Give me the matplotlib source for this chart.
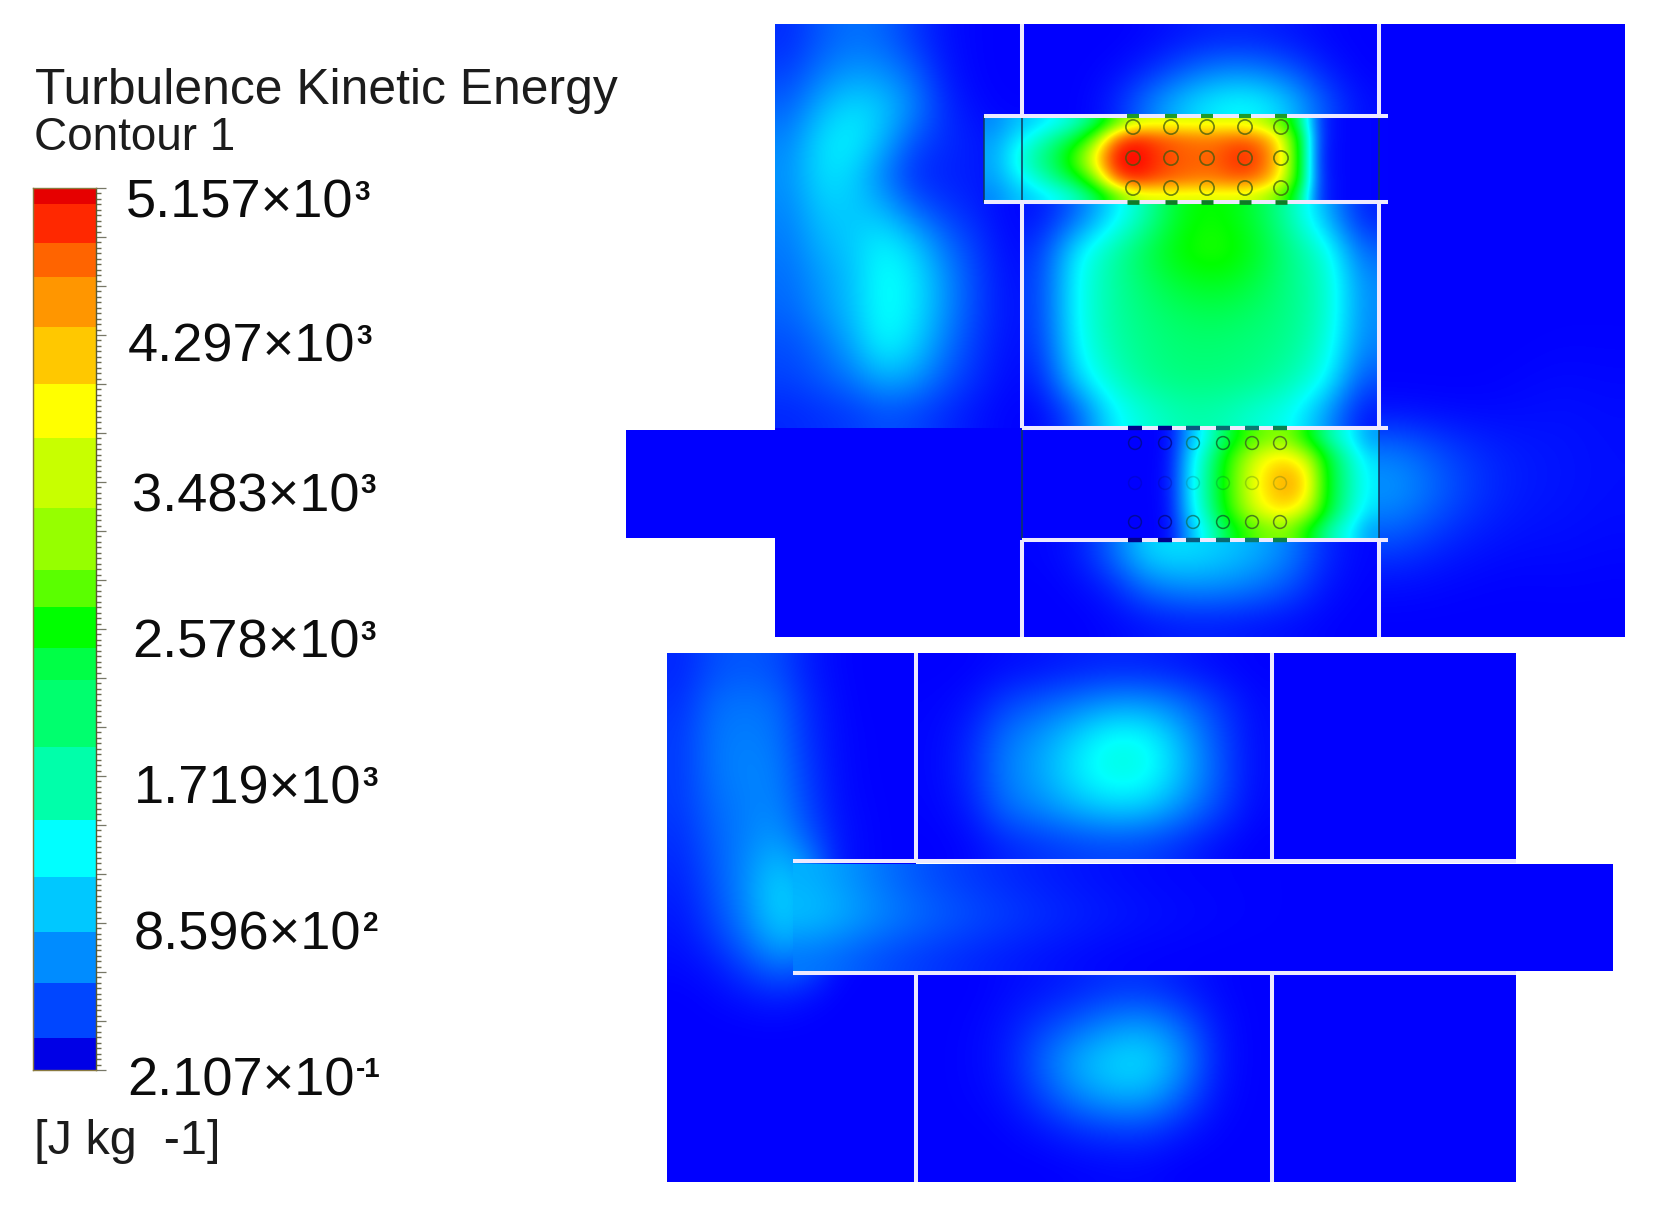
import matplotlib
matplotlib.use("Agg")
import matplotlib.pyplot as plt
from matplotlib.colors import LinearSegmentedColormap
import numpy as np

plt.rcParams['font.family'] = ['Liberation Sans', 'DejaVu Sans']

# ---------- data ----------
title_lines = ["Turbulence Kinetic Energy", "Contour 1"]
unit_label = "[J kg  -1]"
tick_bases = ["5.157×10", "4.297×10", "3.483×10", "2.578×10",
              "1.719×10", "8.596×10", "2.107×10"]
tick_exponents = ["3", "3", "3", "3", "3", "2", "-1"]
v_min, v_max = 0.2107, 5157.0

band_edges = [0.2107, 187, 509, 807, 1128, 1462, 1889, 2280, 2467, 2707,
              2923, 3286, 3695, 4011, 4344, 4637, 4835, 5063, 5157]
band_colors = ['#0000e6', '#0046ff', '#008cff', '#00c8ff', '#00ffff', '#00ffaa',
               '#00ff6e', '#00ff46', '#00ff00', '#5aff00', '#96ff00', '#c8ff00',
               '#ffff00', '#ffc800', '#ff9600', '#ff6400', '#ff2800', '#e60000']

# upper view: left chamber above the inlet
upper_left = [
    [230, 460, 580, 520, 290, 90, 20, 0],
    [350, 630, 800, 750, 520, 140, 20, 0],
    [520, 920, 1150, 1030, 690, 230, 60, 10],
    [690, 1150, 1250, 920, 400, 230, 140, 70],
    [750, 1150, 1090, 630, 230, 170, 140, 60],
    [690, 1030, 1030, 920, 520, 290, 170, 30],
    [630, 920, 1030, 1250, 1030, 570, 290, 60],
    [570, 800, 980, 1350, 1200, 750, 350, 90],
    [520, 750, 980, 1350, 1200, 750, 350, 110],
    [400, 570, 860, 1290, 1090, 630, 290, 90],
    [340, 460, 630, 900, 800, 460, 230, 60],
    [200, 250, 300, 400, 350, 220, 100, 20],
]
upper_mid_top = [
    [0, 0, 0, 40, 120, 180, 180, 120, 40, 0],
    [0, 0, 40, 180, 450, 650, 650, 450, 150, 10],
    [0, 0, 120, 600, 1000, 1250, 1300, 1000, 400, 60],
]
_band_top = [700, 950, 1100, 1300, 1600, 2100, 3000, 3600, 3700, 3700, 3700, 3700, 3700, 3600, 3200, 2300, 300, 40, 20, 20]
_band_mid1 = [800, 1100, 1400, 1800, 2200, 3100, 4500, 4900, 4700, 4600, 4500, 4500, 4600, 4500, 4000, 2800, 300, 40, 20, 20]
_band_mid2 = [850, 1250, 1700, 2100, 2800, 3800, 5000, 5150, 4900, 4700, 4650, 4650, 4900, 4800, 4200, 2900, 250, 40, 20, 20]
tube_band_field = [_band_top, _band_mid1, _band_mid2, _band_mid2, _band_mid1, _band_top]
upper_mid = [
    [100, 500, 1100, 1700, 2500, 2650, 2300, 1700, 900, 150],
    [250, 1200, 1700, 2200, 2650, 2800, 2450, 1900, 1500, 500],
    [300, 1300, 1750, 2050, 2350, 2450, 2250, 1900, 1600, 700],
    [300, 1300, 1750, 1950, 2100, 2150, 2050, 1900, 1600, 700],
    [250, 1250, 1700, 1900, 2000, 2000, 1950, 1850, 1500, 650],
    [150, 1050, 1550, 1850, 1950, 1950, 1900, 1700, 1350, 400],
    [30, 400, 1200, 1500, 1700, 1700, 1500, 1350, 800, 100],
]
_in_a = [0, 60, 900, 1500, 2300, 2900, 3200, 3200, 2500, 1700, 1300, 800]
_in_b = [0, 80, 1100, 1800, 2800, 3500, 3900, 3950, 3500, 2300, 1600, 1100]
_in_c = [0, 100, 1150, 1900, 2900, 3650, 4100, 4300, 3900, 2400, 1700, 1200]
inlet_field = [_in_a, _in_b, _in_c, _in_c, _in_b, _in_a]
upper_mid_low = [
    [20, 100, 500, 1100, 1150, 1050, 900, 650, 200, 30],
    [0, 30, 150, 550, 700, 700, 600, 400, 100, 10],
    [0, 0, 40, 100, 150, 150, 110, 70, 20, 0],
]
upper_right = [
    [0, 0, 0, 0, 0, 0], [0, 0, 0, 0, 0, 0], [0, 0, 0, 0, 0, 0], [0, 0, 0, 0, 0, 0],
    [0, 0, 0, 0, 0, 0], [0, 0, 0, 0, 0, 0], [0, 0, 0, 0, 0, 0], [0, 0, 0, 0, 10, 10],
    [0, 0, 0, 20, 40, 30], [60, 40, 40, 60, 80, 60],
    [650, 400, 220, 130, 100, 70], [800, 500, 250, 130, 100, 70],
    [450, 250, 130, 80, 70, 50], [100, 60, 30, 20, 30, 20], [0, 0, 0, 0, 0, 0],
]
# lower view
lower_left = [
    [200, 400, 450, 400, 150, 30, 0, 0],
    [250, 550, 600, 550, 220, 50, 0, 0],
    [300, 600, 650, 600, 250, 60, 10, 0],
    [300, 600, 680, 650, 300, 70, 10, 0],
    [300, 550, 650, 680, 350, 80, 20, 0],
    [250, 500, 650, 780, 450, 120, 30, 0],
    [200, 450, 700, 1000, 800, 120, 30, 0],
    [150, 400, 700, 1100, 950, 120, 30, 0],
    [100, 300, 600, 950, 900, 120, 30, 0],
    [50, 120, 330, 550, 450, 50, 0, 0],
    [0, 30, 80, 130, 60, 0, 0, 0],
    [0, 0, 0, 0, 0, 0, 0, 0],
    [0, 0, 0, 0, 0, 0, 0, 0],
    [0, 0, 0, 0, 0, 0, 0, 0],
    [0, 0, 0, 0, 0, 0, 0, 0],
    [0, 0, 0, 0, 0, 0, 0, 0],
]
lower_channel = [
    [900, 650, 420, 280, 180, 110, 60, 30, 20, 10, 0, 0, 0, 0, 0, 0],
    [1000, 750, 550, 400, 280, 180, 110, 60, 30, 10, 0, 0, 0, 0, 0, 0],
    [600, 420, 300, 200, 120, 60, 20, 10, 0, 0, 0, 0, 0, 0, 0, 0],
]
lower_mid_top = [
    [0, 10, 60, 100, 150, 180, 170, 120, 50, 10],
    [20, 80, 350, 500, 650, 800, 800, 600, 300, 50],
    [30, 180, 600, 800, 1100, 1400, 1350, 900, 400, 60],
    [30, 200, 650, 850, 1200, 1450, 1400, 950, 450, 60],
    [20, 130, 550, 700, 900, 1050, 1000, 700, 350, 40],
    [0, 40, 180, 260, 320, 350, 320, 200, 60, 0],
]
lower_mid_low = [
    [0, 0, 50, 100, 170, 250, 250, 140, 40, 0],
    [0, 20, 100, 300, 500, 720, 800, 500, 100, 0],
    [0, 30, 120, 500, 900, 1100, 1150, 750, 120, 0],
    [0, 20, 80, 350, 700, 900, 900, 500, 80, 0],
    [0, 0, 20, 100, 220, 300, 300, 130, 20, 0],
    [0, 0, 0, 0, 20, 40, 40, 0, 0, 0],
]
flat_blue = [[0, 0], [0, 0]]

# tube positions
upper_tube_x = [1133, 1171, 1207, 1245, 1281]
upper_tube_y = [127, 158, 188]
inlet_tube_x = [1135, 1165, 1193, 1223, 1252, 1280]
inlet_tube_y = [443, 483, 522]

# ---------- figure ----------
fig = plt.figure(figsize=(16.53, 12.06), dpi=100, facecolor='white')
ax = fig.add_axes([0, 0, 1, 1])
ax.set_axis_off()

cmap = LinearSegmentedColormap.from_list(
    'fluent', ['#0000ff', '#00ffff', '#00ff00', '#ffff00', '#ff0000'], N=512)


def field(z, x0, x1, y0, y1):
    ax.imshow(np.array(z, float), extent=(x0, x1, y1, y0), origin='upper', aspect='auto',
              cmap=cmap, vmin=0, vmax=v_max, interpolation='bicubic',
              interpolation_stage='data', zorder=1)


# upper view
field(upper_left, 775, 1022, 24, 428)
field(flat_blue, 775, 1022, 428, 637)
field(upper_mid_top, 1022, 1379, 24, 116)
field(upper_mid, 1022, 1379, 202, 428)
field(upper_mid_low, 1022, 1379, 540, 637)
field(upper_right, 1379, 1625, 24, 637)
field(tube_band_field, 984, 1388, 116, 202)
field(flat_blue, 626, 1140, 430, 538)
field(inlet_field, 1140, 1379, 430, 538)
# lower view
field(lower_left, 667, 916, 653, 1182)
field(lower_mid_top, 916, 1272, 653, 861)
field(lower_mid_low, 916, 1272, 973, 1182)
field(flat_blue, 1272, 1516, 653, 861)
field(flat_blue, 1272, 1516, 973, 1182)
field(lower_channel, 793, 1613, 864, 971)

wall = dict(color='#ece9ff', lw=2.9, solid_capstyle='butt', zorder=3)
thin = dict(color='#103a5a', lw=1.1, zorder=3)

# upper-view walls
for x in (1022, 1379):
    ax.plot([x, x], [24, 116], **wall)
    ax.plot([x, x], [202, 428], **wall)
    ax.plot([x, x], [540, 637], **wall)
    ax.plot([x, x], [116, 202], **thin)
    ax.plot([x, x], [430, 538], **thin)
ax.plot([984, 984], [116, 202], **thin)
for y in (116, 202):
    ax.plot([984, 1388], [y, y], **wall)
for y in (428, 540):
    ax.plot([1022, 1388], [y, y], **wall)

# lower-view walls
for x in (916, 1272):
    ax.plot([x, x], [653, 861], **wall)
    ax.plot([x, x], [973, 1182], **wall)
for y in (861, 973):
    ax.plot([793, 1516], [y, y], **wall)

# tubes and their breaks in the walls
tx, ty = np.meshgrid(upper_tube_x, upper_tube_y)
ax.scatter(tx.ravel(), ty.ravel(), s=105, facecolors='none', edgecolors='#3a5a10',
           linewidths=1.2, alpha=0.75, zorder=4)
for x in upper_tube_x:
    ax.plot([x - 6, x + 6], [116, 116], color='#1f9a2a', lw=3, solid_capstyle='butt', zorder=4)
    ax.plot([x - 6, x + 6], [202, 202], color='#0f7a25', lw=3.4, solid_capstyle='butt', zorder=4)
inlet_edge = ['#000a90', '#000a90', '#0a7a70', '#0c6a2a', '#3a6a20', '#4a6a20']
for row_i, y in enumerate(inlet_tube_y):
    a = 0.3 if row_i == 1 else 0.85
    for x, c in zip(inlet_tube_x, inlet_edge):
        ax.scatter([x], [y], s=85, facecolors='none', edgecolors=c, linewidths=1.1,
                   alpha=a, zorder=4)
for x, c in zip(inlet_tube_x, ['#00008c', '#00008c', '#0a5a80', '#0a6a70', '#0a7a70', '#0a8050']):
    ax.plot([x - 7, x + 7], [428, 428], color=c, lw=3.2, solid_capstyle='butt', zorder=4)
    ax.plot([x - 7, x + 7], [540, 540], color=c, lw=3.2, solid_capstyle='butt', zorder=4)

ax.set_xlim(0, 1653)
ax.set_ylim(1206, 0)

# legend text
text_color = '#1c1c1c'
ax.text(35, 91, title_lines[0], fontsize=35.8, color=text_color, va='center', ha='left')
ax.text(34, 138, title_lines[1], fontsize=33, color=text_color, va='center', ha='left')
ax.text(34, 1141, unit_label, fontsize=35, color=text_color, va='center', ha='left')
label_x = [126, 128, 132, 132, 134, 134, 127]
label_base = [218, 362, 511, 658, 804, 949, 1095]
renderer = fig.canvas.get_renderer()
for s, e, x, y in zip(tick_bases, tick_exponents, label_x, label_base):
    t = ax.text(x, y, s, fontsize=39, color='#0c0c0c', va='baseline', ha='left')
    bb = t.get_window_extent(renderer)
    ax.text(bb.x1 + 1, y - 18, e, fontsize=20, fontweight='bold', color='#0c0c0c',
            va='baseline', ha='left')

# colour bar
cax = fig.add_axes([33 / 1653, 1 - 1070 / 1206, 63 / 1653, 882 / 1206])
lo = np.array(band_edges[:-1])
hi = np.array(band_edges[1:])
cax.bar(0.5, hi - lo, bottom=lo, width=1.0, color=band_colors, linewidth=0)
cax.set_xlim(0, 1)
cax.set_ylim(v_min, v_max)
cax.set_xticks([])
cax.yaxis.tick_right()
major = v_min + (v_max - v_min) * np.arange(19) / 18
minor = v_min + (v_max - v_min) * np.arange(163) / 162
cax.set_yticks(major)
cax.set_yticks(minor, minor=True)
cax.tick_params(axis='y', which='major', length=7, width=0.9, color='#777766', labelright=False)
cax.tick_params(axis='y', which='minor', length=3.4, width=1.0, color='#6a6a50')
for s in ('top', 'bottom', 'left'):
    cax.spines[s].set_color('#8a7a40')
    cax.spines[s].set_linewidth(1.0)
cax.spines['right'].set_color('#5a5a30')
cax.spines['right'].set_linewidth(1.0)

fig.savefig('out.png', dpi=100, facecolor='white')
